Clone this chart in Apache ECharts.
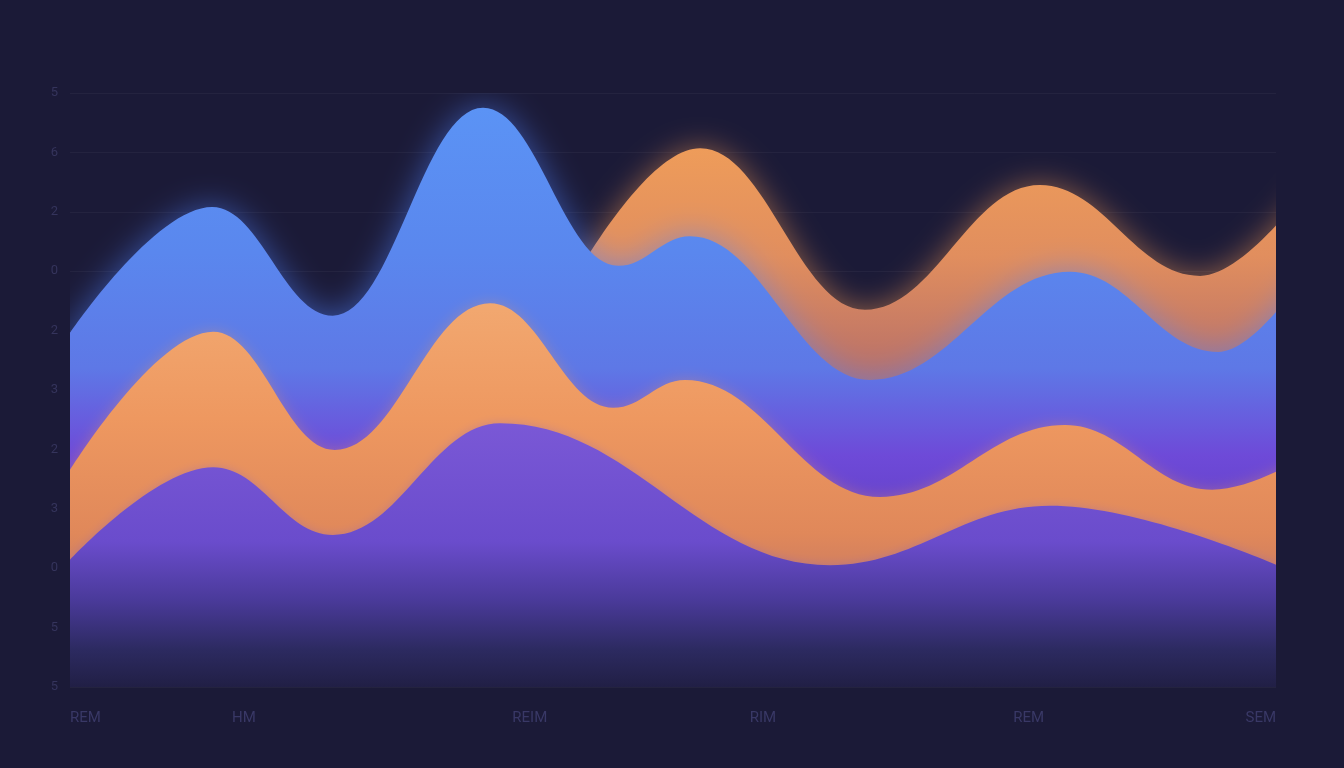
<!DOCTYPE html>
<html>
<head>
<meta charset="utf-8">
<style>
  html, body { margin: 0; padding: 0; background: #1b1a37; }
  #chart { width: 1344px; height: 768px; }
</style>
<script src="https://cdn.jsdelivr.net/npm/echarts@6/dist/echarts.min.js"></script>
</head>
<body>
<div id="chart"></div>
<script>
// ---- data (x in axis units 0..24, y in axis units 0..10) ----
const xLabels = ['REM', 'HM', 'REIM', 'RIM', 'REM', 'SEM'];
const xLabelAt = [0, 3.46, 9.15, 13.79, 19.08, 24];
const yTickLabels = ['5', '5', '0', '3', '2', '3', '2', '0', '2', '6', '5']; // value 0..10

const purpleX = [0, 2.85, 5.23, 8.56, 15.12, 19.50, 24.3];
const purpleY = [2.14, 3.70, 2.56, 4.44, 2.05, 3.05, 1.95];

const orangeMidX = [0, 2.85, 5.27, 8.36, 10.81, 12.24, 16.12, 19.80, 22.73, 25.1];
const orangeMidY = [3.65, 5.98, 3.99, 6.46, 4.70, 5.17, 3.20, 4.41, 3.32, 4.15];

const blueX = [0, 2.83, 5.23, 8.22, 10.91, 12.34, 15.92, 19.90, 22.85, 24.9];
const blueY = [5.96, 8.08, 6.25, 9.75, 7.09, 7.59, 5.17, 6.99, 5.64, 7.35];

const orangeTopX = [8.8, 12.54, 15.82, 19.30, 22.49, 24.8];
const orangeTopY = [4.90, 9.07, 6.35, 8.45, 6.92, 8.60];

function pairs(xs, ys) { return xs.map((x, i) => [x, ys[i]]); }
function grad(stops) {
  return new echarts.graphic.LinearGradient(0, 0, 0, 1, stops.map(s => ({ offset: s[0], color: s[1] })));
}

const chart = echarts.init(document.getElementById('chart'), null, { renderer: 'canvas' });

const baseSeries = {
  type: 'line',
  smooth: 0.4,
  smoothMonotone: 'x',
  symbol: 'none',
  clip: true,
  lineStyle: { width: 0 },
  emphasis: { disabled: true },
  silent: true
};

chart.setOption({
  backgroundColor: '#1b1a37',
  animation: false,
  grid: { left: 70, right: 68, top: 93, bottom: 81 },
  xAxis: {
    type: 'value',
    min: 0, max: 24,
    axisLine: { show: false },
    axisTick: { show: false },
    splitLine: { show: false },
    axisLabel: {
      customValues: xLabelAt,
      formatter: v => { const k = xLabelAt.indexOf(v); return k >= 0 ? xLabels[k] : ''; },
      color: '#393866',
      fontSize: 15,
      fontFamily: 'Roboto, sans-serif',
      margin: 24,
      alignMinLabel: 'left',
      alignMaxLabel: 'right'
    }
  },
  yAxis: {
    type: 'value',
    min: 0, max: 10, interval: 1,
    axisLine: { show: false },
    axisTick: { show: false },
    splitLine: { show: true, lineStyle: { color: 'rgba(255,255,255,0.045)', width: 1 } },
    axisLabel: {
      formatter: v => yTickLabels[Math.round(v)] || '',
      color: '#35345c',
      fontSize: 13,
      fontFamily: 'Roboto, sans-serif',
      margin: 12
    }
  },
  series: [
    Object.assign({}, baseSeries, {
      name: 'top',
      data: pairs(orangeTopX, orangeTopY),
      areaStyle: {
        opacity: 1,
        color: grad([[0, '#ee9c5a'], [0.2, '#e18e5e'], [0.42, '#b87068'], [1, '#5a3c80']]),
        shadowBlur: 30,
        shadowColor: 'rgba(240,150,80,0.55)'
      }
    }),
    Object.assign({}, baseSeries, {
      name: 'blue',
      data: pairs(blueX, blueY),
      areaStyle: {
        opacity: 1,
        color: grad([[0, '#5b93f5'], [0.25, '#5a87ee'], [0.45, '#5e78e6'], [0.6, '#6e4ad8'], [1, '#4a2aa0']]),
        shadowBlur: 32,
        shadowColor: 'rgba(80,130,255,0.55)'
      }
    }),
    Object.assign({}, baseSeries, {
      name: 'mid',
      data: pairs(orangeMidX, orangeMidY),
      areaStyle: {
        opacity: 1,
        color: grad([[0, '#f2a870'], [0.3, '#ee9860'], [0.6, '#e0885a'], [1, '#a06070']]),
        shadowBlur: 14,
        shadowColor: 'rgba(240,150,90,0.35)'
      }
    }),
    Object.assign({}, baseSeries, {
      name: 'base',
      data: pairs(purpleX, purpleY),
      areaStyle: {
        opacity: 1,
        color: grad([[0, '#7a58d6'], [0.45, '#6a4ccc'], [0.67, '#4a3a9a'], [0.86, '#2c2a60'], [1, '#211f45']]),
        shadowBlur: 10,
        shadowColor: 'rgba(120,90,220,0.3)'
      }
    })
  ]
});
</script>
</body>
</html>
